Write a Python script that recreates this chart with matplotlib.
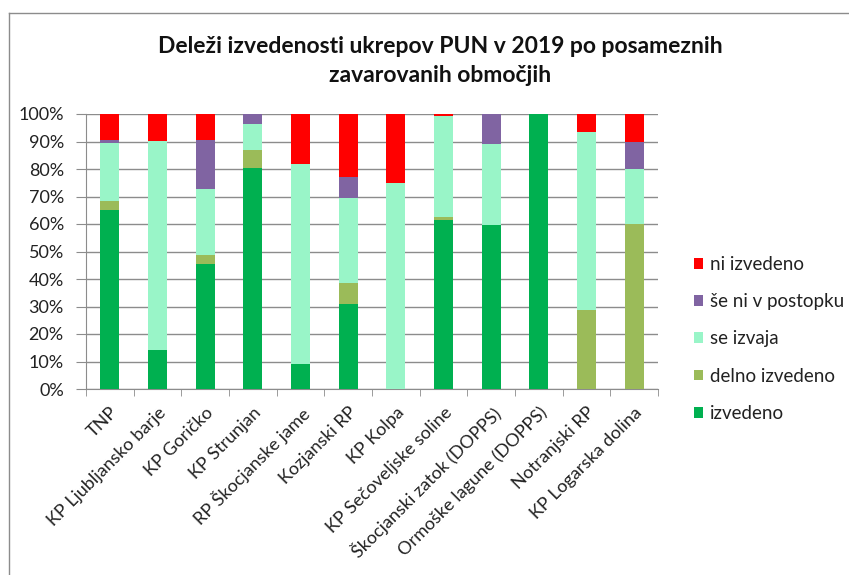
import matplotlib
matplotlib.use("Agg")
import matplotlib.pyplot as plt
from matplotlib.lines import Line2D
from matplotlib.patches import Patch
import numpy as np

plt.rcParams['font.family'] = ['Lato', 'DejaVu Sans']

categories = ["TNP", "KP Ljubljansko barje", "KP Goričko", "KP Strunjan",
              "RP Škocjanske jame", "Kozjanski RP", "KP Kolpa",
              "KP Sečoveljske soline", "Škocjanski zatok (DOPPS)",
              "Ormoške lagune (DOPPS)", "Notranjski RP", "KP Logarska dolina"]

izvedeno       = [65.2, 14.1, 45.5, 80.4, 9.1, 30.8, 0.0, 61.6, 59.8, 100.0, 0.0, 0.0]
delno_izvedeno = [3.0, 0.0, 3.1, 6.6, 0.0, 7.7, 0.0, 0.9, 0.0, 0.0, 28.8, 60.0]
se_izvaja      = [21.3, 76.2, 24.1, 9.5, 72.7, 30.8, 75.0, 36.7, 29.3, 0.0, 64.7, 20.0]
se_ni_v_post   = [1.2, 0.0, 18.0, 3.5, 0.0, 7.7, 0.0, 0.0, 10.9, 0.0, 0.0, 10.0]
ni_izvedeno    = [9.3, 9.7, 9.3, 0.0, 18.2, 23.0, 25.0, 0.8, 0.0, 0.0, 6.5, 10.0]

series = [("izvedeno", izvedeno, "#00B050"),
          ("delno izvedeno", delno_izvedeno, "#9BBB59"),
          ("se izvaja", se_izvaja, "#99F5C8"),
          ("še ni v postopku", se_ni_v_post, "#8064A2"),
          ("ni izvedeno", ni_izvedeno, "#FF0000")]

title = "Deleži izvedenosti ukrepov PUN v 2019 po posameznih\nzavarovanih območjih"

fig = plt.figure(figsize=(8.49, 5.75), dpi=100)
W, H = 849, 575
ax = fig.add_axes([86 / W, 1 - 389 / H, (658 - 86) / W, (389 - 114) / H])

x = np.arange(len(categories))
bottom = np.zeros(len(categories))
handles = []
for name, vals, col in series:
    v = np.array(vals)
    ax.bar(x, v, 0.4, bottom=bottom, color=col, zorder=3, linewidth=0)
    bottom += v
    handles.append(Patch(facecolor=col, edgecolor='none', label=name))

ax.set_xlim(-0.5, len(categories) - 0.5)
ax.set_ylim(0, 100)
ax.set_yticks(np.arange(0, 101, 10))
ax.set_yticklabels([f"{t}%" for t in range(0, 101, 10)], fontsize=13, color="#222222")
ax.yaxis.grid(True, color="#8C8C8C", linewidth=1, zorder=0)
ax.set_axisbelow(True)
for s in ["top", "right"]:
    ax.spines[s].set_visible(False)
for s in ["left", "bottom"]:
    ax.spines[s].set_color("#8C8C8C")
ax.tick_params(axis='y', length=7, color="#8C8C8C", pad=9)

ax.set_xticks(x)
ax.set_xticklabels(categories, rotation=45, ha='right', rotation_mode='anchor',
                   fontsize=13, color="#222222")
ax.set_xticks(np.arange(-0.5, len(categories), 1), minor=True)
ax.tick_params(axis='x', which='major', length=0, pad=11)
ax.tick_params(axis='x', which='minor', length=5, color="#8C8C8C")

fig.text(440 / W, 1 - 61 / H, title, ha='center', va='center', fontsize=16.5,
         fontweight='bold', linespacing=1.5, color="#111111")

leg = fig.legend(handles=handles[::-1], loc='upper left',
                 bbox_to_anchor=(677 / W, 1 - 239 / H), frameon=False,
                 fontsize=13.5, handlelength=0.5, handleheight=0.5,
                 handletextpad=0.35, labelspacing=1.08)
for t in leg.get_texts():
    t.set_color("#222222")

c = "#8C8C8C"
fig.add_artist(Line2D([9 / W, 9 / W], [0, 1 - 13 / H], color=c, lw=1,
                      transform=fig.transFigure))
fig.add_artist(Line2D([9 / W, 1], [1 - 13 / H, 1 - 13 / H], color=c, lw=1,
                      transform=fig.transFigure))

fig.savefig("out.png", dpi=100)
